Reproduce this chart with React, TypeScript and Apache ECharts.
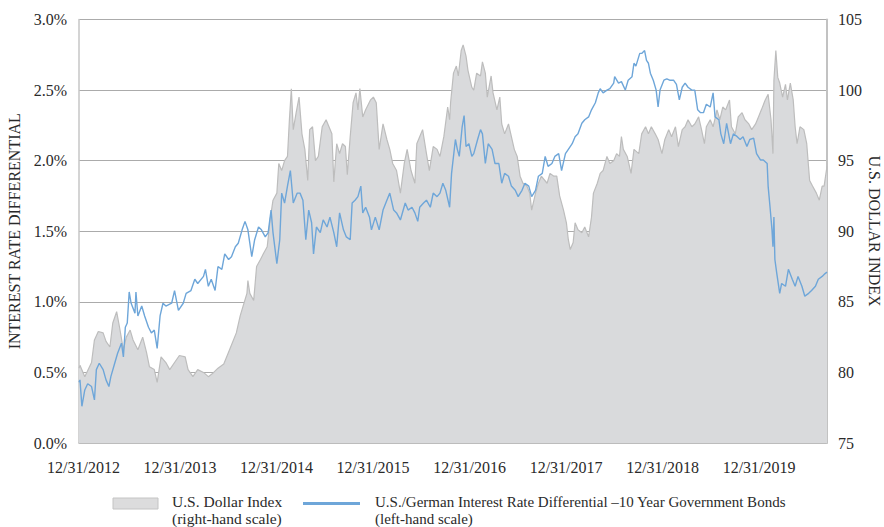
import React, { useEffect, useRef } from "react";
import * as echarts from "echarts";

// x = years since 12/31/2012
const xTickLabels = ["12/31/2012", "12/31/2013", "12/31/2014", "12/31/2015", "12/31/2016", "12/31/2017", "12/31/2018", "12/31/2019"];
const xMaxYears = 7.75;

// U.S. Dollar Index (right-hand scale) [years since 12/31/2012, index]
const dollarIndex: [number, number][] = [
  [0, 80.3], [0.01, 80.5], [0.06, 79.7], [0.13, 80.7], [0.16, 82.3], [0.2, 82.9], [0.25, 82.8], [0.28, 82.2], [0.32, 81.8], [0.35, 83.5],
  [0.39, 84.3], [0.42, 83.2], [0.46, 81.6], [0.49, 82.5], [0.53, 83.0], [0.56, 82.3], [0.61, 81.6], [0.66, 82.5], [0.7, 81.4], [0.73, 80.4],
  [0.78, 80.2], [0.81, 79.3], [0.85, 81.1], [0.9, 80.7], [0.94, 80.2], [0.99, 80.7], [1.04, 81.2], [1.1, 81.1], [1.13, 80.2], [1.18, 79.7],
  [1.23, 80.2], [1.29, 80.0], [1.34, 79.7], [1.38, 79.9], [1.44, 80.3], [1.5, 80.6], [1.56, 81.6], [1.63, 82.8], [1.67, 84.0], [1.7, 84.7],
  [1.74, 85.6], [1.75, 86.5], [1.77, 85.6], [1.81, 85.1], [1.84, 87.5], [1.88, 88.0], [1.91, 88.4], [1.95, 88.9], [1.98, 90.8], [2.01, 92.2],
  [2.05, 92.7], [2.07, 94.8], [2.1, 94.3], [2.13, 95.0], [2.16, 95.3], [2.18, 97.9], [2.2, 100.1], [2.22, 97.2], [2.25, 98.4], [2.28, 99.5],
  [2.31, 96.9], [2.34, 95.8], [2.37, 93.6], [2.39, 97.2], [2.42, 97.4], [2.45, 95.0], [2.48, 95.3], [2.52, 97.4], [2.56, 97.9], [2.59, 97.4],
  [2.62, 96.9], [2.64, 93.5], [2.67, 96.2], [2.7, 95.5], [2.73, 96.2], [2.76, 96.0], [2.78, 94.0], [2.81, 96.7], [2.84, 99.1], [2.87, 99.8],
  [2.89, 98.6], [2.91, 100.1], [2.94, 98.1], [2.97, 98.6], [3.02, 99.3], [3.05, 99.5], [3.08, 99.1], [3.11, 95.8], [3.15, 97.6], [3.19, 96.5],
  [3.22, 95.8], [3.25, 94.8], [3.29, 94.3], [3.33, 92.7], [3.37, 94.8], [3.4, 95.8], [3.44, 94.3], [3.48, 93.4], [3.5, 96.2], [3.53, 96.7],
  [3.56, 97.2], [3.6, 95.5], [3.63, 94.3], [3.67, 96.0], [3.71, 95.8], [3.74, 95.3], [3.78, 96.7], [3.82, 98.8], [3.84, 97.9], [3.85, 99.1],
  [3.88, 101.2], [3.91, 101.7], [3.93, 101.0], [3.96, 102.8], [3.98, 103.2], [4.01, 102.4], [4.03, 101.4], [4.07, 100.2], [4.09, 100.0], [4.12, 101.2],
  [4.16, 101.0], [4.18, 102.0], [4.21, 101.2], [4.23, 99.5], [4.27, 101.0], [4.29, 99.8], [4.33, 98.6], [4.36, 99.5], [4.38, 97.6], [4.41, 96.9],
  [4.45, 97.6], [4.48, 96.7], [4.51, 95.8], [4.54, 95.3], [4.57, 93.9], [4.6, 93.4], [4.64, 93.2], [4.67, 92.7], [4.69, 91.5], [4.73, 92.7],
  [4.76, 93.4], [4.79, 93.9], [4.85, 93.4], [4.88, 94.1], [4.92, 93.9], [4.95, 93.9], [4.98, 92.5], [5.02, 91.5], [5.05, 90.6], [5.07, 89.4],
  [5.09, 88.7], [5.12, 89.2], [5.14, 90.6], [5.17, 90.1], [5.21, 89.9], [5.24, 90.3], [5.28, 89.6], [5.31, 91.0], [5.33, 92.7], [5.37, 93.4],
  [5.4, 94.1], [5.43, 94.3], [5.47, 95.3], [5.5, 94.8], [5.54, 95.0], [5.57, 95.5], [5.6, 95.3], [5.62, 96.7], [5.64, 95.8], [5.68, 95.3],
  [5.72, 94.1], [5.75, 95.8], [5.8, 95.5], [5.83, 96.9], [5.87, 97.4], [5.9, 96.9], [5.93, 97.4], [5.97, 96.9], [6.0, 96.5], [6.04, 95.5],
  [6.07, 96.5], [6.11, 97.2], [6.14, 96.7], [6.18, 97.4], [6.21, 96.0], [6.25, 97.2], [6.28, 97.4], [6.31, 97.9], [6.35, 97.4], [6.38, 97.6],
  [6.42, 98.1], [6.45, 97.2], [6.48, 96.2], [6.5, 97.4], [6.54, 97.9], [6.57, 97.4], [6.61, 98.6], [6.64, 97.9], [6.67, 98.8], [6.7, 98.6],
  [6.74, 99.3], [6.76, 97.4], [6.8, 96.9], [6.83, 98.1], [6.87, 98.4], [6.9, 97.9], [6.94, 97.6], [6.97, 97.2], [7.01, 97.6], [7.04, 98.1],
  [7.07, 98.6], [7.11, 99.3], [7.14, 99.7], [7.17, 97.9], [7.19, 95.5], [7.2, 100.7], [7.22, 102.8], [7.24, 100.9], [7.26, 100.5], [7.29, 99.5],
  [7.32, 100.4], [7.34, 99.3], [7.37, 100.5], [7.4, 99.3], [7.42, 97.4], [7.44, 96.2], [7.47, 97.4], [7.51, 97.2], [7.54, 96.2], [7.57, 93.6],
  [7.6, 93.2], [7.64, 92.7], [7.67, 92.2], [7.7, 93.2], [7.72, 93.2], [7.75, 94.6],
];

// U.S./German 10Y interest rate differential, % (left-hand scale)
const rateDifferential: [number, number][] = [
  [0, 0.43], [0.01, 0.447], [0.03, 0.26], [0.06, 0.376], [0.09, 0.42], [0.13, 0.4], [0.16, 0.305], [0.18, 0.52], [0.21, 0.565], [0.25, 0.52],
  [0.28, 0.447], [0.31, 0.4], [0.33, 0.47], [0.37, 0.565], [0.4, 0.636], [0.44, 0.707], [0.46, 0.61], [0.48, 0.82], [0.5, 0.85], [0.52, 1.07],
  [0.54, 0.99], [0.58, 0.92], [0.59, 1.07], [0.61, 0.9], [0.65, 0.97], [0.68, 0.9], [0.72, 0.82], [0.75, 0.78], [0.78, 0.8], [0.81, 0.67],
  [0.84, 0.9], [0.87, 0.99], [0.9, 0.97], [0.96, 0.99], [0.99, 1.08], [1.03, 0.94], [1.08, 0.99], [1.11, 1.06], [1.16, 1.08], [1.2, 1.16],
  [1.23, 1.13], [1.29, 1.18], [1.31, 1.23], [1.34, 1.11], [1.37, 1.16], [1.41, 1.08], [1.44, 1.25], [1.48, 1.23], [1.51, 1.34], [1.55, 1.3],
  [1.58, 1.32], [1.62, 1.39], [1.65, 1.415], [1.69, 1.51], [1.72, 1.57], [1.75, 1.51], [1.79, 1.32], [1.82, 1.44], [1.86, 1.53], [1.89, 1.51],
  [1.93, 1.46], [1.96, 1.49], [1.99, 1.65], [2.01, 1.49], [2.05, 1.27], [2.08, 1.44], [2.1, 1.77], [2.13, 1.7], [2.16, 1.82], [2.19, 1.93],
  [2.22, 1.7], [2.26, 1.77], [2.29, 1.77], [2.32, 1.72], [2.35, 1.44], [2.38, 1.65], [2.41, 1.56], [2.43, 1.34], [2.46, 1.53], [2.5, 1.49],
  [2.53, 1.58], [2.57, 1.53], [2.6, 1.6], [2.64, 1.49], [2.67, 1.39], [2.7, 1.63], [2.74, 1.51], [2.77, 1.46], [2.81, 1.44], [2.83, 1.7],
  [2.86, 1.72], [2.89, 1.745], [2.92, 1.82], [2.94, 1.63], [2.97, 1.67], [3.01, 1.6], [3.03, 1.51], [3.07, 1.6], [3.11, 1.51], [3.15, 1.65],
  [3.19, 1.72], [3.22, 1.77], [3.26, 1.65], [3.29, 1.63], [3.33, 1.58], [3.38, 1.7], [3.41, 1.65], [3.45, 1.67], [3.48, 1.63], [3.51, 1.57],
  [3.53, 1.67], [3.57, 1.7], [3.6, 1.72], [3.64, 1.67], [3.67, 1.77], [3.71, 1.745], [3.74, 1.77], [3.77, 1.84], [3.8, 1.79], [3.84, 1.67],
  [3.86, 1.91], [3.9, 2.15], [3.92, 2.08], [3.94, 2.03], [3.97, 2.24], [3.99, 2.32], [4.01, 2.1], [4.04, 2.12], [4.07, 2.03], [4.09, 2.05],
  [4.13, 2.15], [4.16, 2.22], [4.18, 2.19], [4.21, 1.98], [4.24, 2.12], [4.28, 2.08], [4.31, 1.98], [4.35, 1.98], [4.38, 1.84], [4.41, 1.91],
  [4.45, 1.89], [4.48, 1.82], [4.52, 1.79], [4.55, 1.745], [4.59, 1.79], [4.62, 1.84], [4.66, 1.82], [4.69, 1.745], [4.73, 1.79], [4.76, 1.89],
  [4.8, 1.91], [4.83, 2.03], [4.86, 1.96], [4.9, 1.98], [4.93, 2.03], [4.97, 2.05], [5.0, 1.93], [5.04, 2.05], [5.07, 2.08], [5.11, 2.12],
  [5.14, 2.17], [5.17, 2.19], [5.21, 2.265], [5.24, 2.29], [5.28, 2.31], [5.31, 2.36], [5.35, 2.41], [5.38, 2.48], [5.4, 2.51], [5.43, 2.48],
  [5.47, 2.5], [5.5, 2.51], [5.54, 2.55], [5.55, 2.595], [5.59, 2.55], [5.62, 2.56], [5.66, 2.5], [5.69, 2.57], [5.73, 2.595], [5.75, 2.69],
  [5.77, 2.67], [5.81, 2.76], [5.83, 2.76], [5.86, 2.78], [5.88, 2.71], [5.9, 2.69], [5.92, 2.62], [5.95, 2.57], [5.98, 2.5], [6.0, 2.38],
  [6.02, 2.5], [6.06, 2.57], [6.09, 2.58], [6.12, 2.57], [6.16, 2.57], [6.19, 2.54], [6.22, 2.43], [6.25, 2.52], [6.28, 2.55], [6.31, 2.52],
  [6.35, 2.5], [6.38, 2.5], [6.41, 2.36], [6.44, 2.34], [6.47, 2.34], [6.5, 2.4], [6.54, 2.38], [6.57, 2.48], [6.59, 2.31], [6.63, 2.29],
  [6.65, 2.19], [6.68, 2.12], [6.71, 2.265], [6.75, 2.12], [6.78, 2.19], [6.82, 2.17], [6.85, 2.15], [6.88, 2.17], [6.92, 2.1], [6.95, 2.15],
  [6.99, 2.16], [7.02, 2.05], [7.06, 2.005], [7.09, 2.005], [7.13, 1.98], [7.14, 1.82], [7.16, 1.67], [7.18, 1.51], [7.19, 1.39], [7.2, 1.6],
  [7.21, 1.3], [7.23, 1.2], [7.26, 1.06], [7.28, 1.13], [7.32, 1.11], [7.35, 1.23], [7.39, 1.16], [7.42, 1.11], [7.45, 1.18], [7.49, 1.11],
  [7.52, 1.04], [7.56, 1.06], [7.59, 1.08], [7.63, 1.11], [7.66, 1.16], [7.7, 1.18], [7.73, 1.2], [7.75, 1.21],
];

const seriesNames = ["U.S. Dollar Index", "U.S./German Interest Rate Differential \u201310 Year Government Bonds"];
const seriesNotes = ["(right-hand scale)", "(left-hand scale)"];
const axisNames = ["INTEREST RATE DIFFERENTIAL", "U.S. DOLLAR INDEX"];

const FONT = '"Liberation Serif", "DejaVu Serif", serif';
const TEXT = "#2a2a2a";
const BLUE = "#6ea6d9";
const AREA = "#d9dadc";
const AREA_LINE = "#bdbdbd";

export default function App() {
  const ref = useRef<HTMLDivElement>(null);
  useEffect(() => {
    if (!ref.current) return;
    const chart = echarts.init(ref.current, undefined, { renderer: "svg", width: 884, height: 527 });
    chart.setOption({
      animation: false,
      backgroundColor: "#ffffff",
      textStyle: { fontFamily: FONT },
      grid: { left: 79, right: 57, top: 19.5, bottom: 84, containLabel: false, outerBoundsMode: "none" },
      xAxis: {
        type: "value",
        min: 0,
        max: xMaxYears,
        interval: 1,
        axisLine: { show: true, lineStyle: { color: "#c2c2c2", width: 1.5 } },
        axisTick: { show: true, inside: true, length: 3, lineStyle: { color: "#c2c2c2" } },
        splitLine: { show: false },
        axisLabel: {
          margin: 16,
          fontSize: 16,
          color: TEXT,
          fontFamily: FONT,
          padding: [0, 0, 0, 9],
          formatter: (v: number) => (Number.isInteger(v) && xTickLabels[v] ? xTickLabels[v] : ""),
        },
      },
      yAxis: [
        {
          type: "value",
          min: 0,
          max: 3,
          interval: 0.5,
          position: "left",
          name: axisNames[0],
          nameLocation: "middle",
          nameGap: 50,
          nameTextStyle: { fontSize: 16, color: TEXT, fontFamily: FONT },
          axisLine: { show: true, lineStyle: { color: "#c6c6c6", width: 1.5 } },
          axisTick: { show: false },
          splitLine: { show: true, lineStyle: { color: "#ababab", width: 1 } },
          axisLabel: { margin: 12, fontSize: 16, color: TEXT, fontFamily: FONT, formatter: (v: number) => v.toFixed(1) + "%" },
        },
        {
          type: "value",
          min: 75,
          max: 105,
          interval: 5,
          position: "right",
          axisLine: { show: true, lineStyle: { color: "#c2c2c2", width: 2 } },
          axisTick: { show: false },
          splitLine: { show: false },
          axisLabel: { margin: 11, fontSize: 16, color: TEXT, fontFamily: FONT },
        },
      ],
      series: [
        {
          name: seriesNames[0],
          type: "line",
          yAxisIndex: 1,
          data: dollarIndex,
          showSymbol: false,
          symbol: "none",
          lineStyle: { color: AREA_LINE, width: 1.2 },
          areaStyle: { color: AREA, opacity: 1 },
          z: 2,
        },
        {
          name: seriesNames[1],
          type: "line",
          yAxisIndex: 0,
          data: rateDifferential,
          showSymbol: false,
          symbol: "none",
          lineStyle: { color: BLUE, width: 1.4 },
          z: 3,
        },
      ],
      graphic: [
        {
          type: "text",
          x: 874,
          y: 231,
          rotation: -Math.PI / 2,
          style: { text: axisNames[1], font: `16px ${FONT}`, fill: TEXT, align: "center", verticalAlign: "middle" },
        },
        { type: "rect", shape: { x: 113, y: 498, width: 45, height: 11 }, style: { fill: "#dcdcdd", stroke: "#c4c4c4", lineWidth: 1 } },
        {
          type: "text",
          x: 172,
          y: 493,
          style: { text: seriesNames[0] + "\n" + seriesNotes[0], font: `15.5px ${FONT}`, lineHeight: 17, fill: TEXT, verticalAlign: "top" },
        },
        { type: "line", shape: { x1: 303, y1: 503.5, x2: 360, y2: 503.5 }, style: { stroke: BLUE, lineWidth: 3 } },
        {
          type: "text",
          x: 375,
          y: 493,
          style: { text: seriesNames[1] + "\n" + seriesNotes[1], font: `15px ${FONT}`, lineHeight: 17, fill: TEXT, verticalAlign: "top" },
        },
      ],
    });
    return () => chart.dispose();
  }, []);
  return <div ref={ref} style={{ position: "fixed", left: 0, top: 0, width: 884, height: 527 }} />;
}
